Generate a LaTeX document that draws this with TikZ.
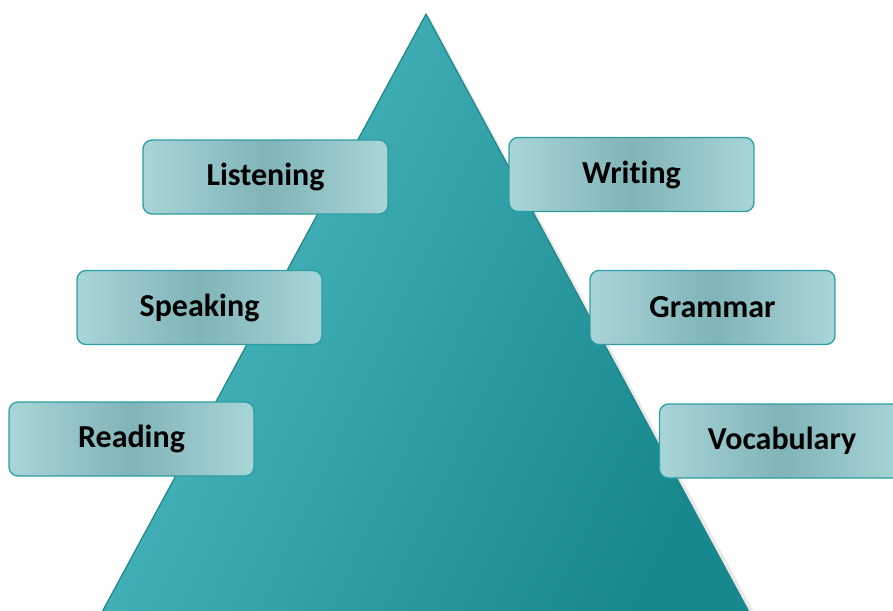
\documentclass[tikz,border=0pt]{standalone}
\usepackage{fontspec}
\setmainfont{Carlito}[Ligatures=NoCommon]
\usetikzlibrary{calc}
\definecolor{triLight}{HTML}{4DBAC2}
\definecolor{triDark}{HTML}{17888D}
\definecolor{triEdge}{HTML}{1F8589}
\definecolor{boxIn}{HTML}{80B4B7}
\definecolor{boxOut}{HTML}{A8D5D8}
\definecolor{boxEdge}{HTML}{2A9EA2}
% box fill: light at both ends, darker through the middle
\pgfdeclarehorizontalshading{boxband}{100bp}{%
  color(0bp)=(boxOut); color(25bp)=(boxOut); color(50bp)=(boxIn);
  color(75bp)=(boxOut); color(100bp)=(boxOut)}
\tikzset{
  skillbox/.style={draw=boxEdge, line width=1.3pt, rounded corners=9pt,
    shading=boxband,
    minimum width=245pt, minimum height=74pt,
    font=\fontsize{32}{36}\selectfont\bfseries, text=black},
  pyramid/.style={draw=triEdge, line width=1.2pt, line join=round,
    shading=axis, left color=triLight, right color=triDark, shading angle=65}
}
\begin{document}
\begin{tikzpicture}[x=1pt,y=-1pt]
  \useasboundingbox (0,0) rectangle (893,610);
  \clip (0,0) rectangle (893,610);
  % pyramid body with a faint drop shadow
  \coordinate (apex) at (426,14);
  \coordinate (baseL) at (102,612);
  \coordinate (baseR) at (749,612);
  \fill[black!25, opacity=0.35] ($(apex)+(3,2)$) -- ($(baseR)+(5,0)$) -- ($(baseL)+(5,0)$) -- cycle;
  \path[pyramid] (apex) -- (baseR) -- (baseL) -- cycle;
  % skill labels
  \node[skillbox] (listening) at (265.5,177) {Listening};
  \node[skillbox] (writing) at (631.5,174.5) {Writing};
  \node[skillbox] (speaking) at (199.5,307.5) {Speaking};
  \node[skillbox] (grammar) at (712.5,307.5) {Grammar};
  \node[skillbox] (reading) at (131.5,439) {Reading};
  \node[skillbox] (vocabulary) at (782,441) {Vocabulary};
\end{tikzpicture}
\end{document}
